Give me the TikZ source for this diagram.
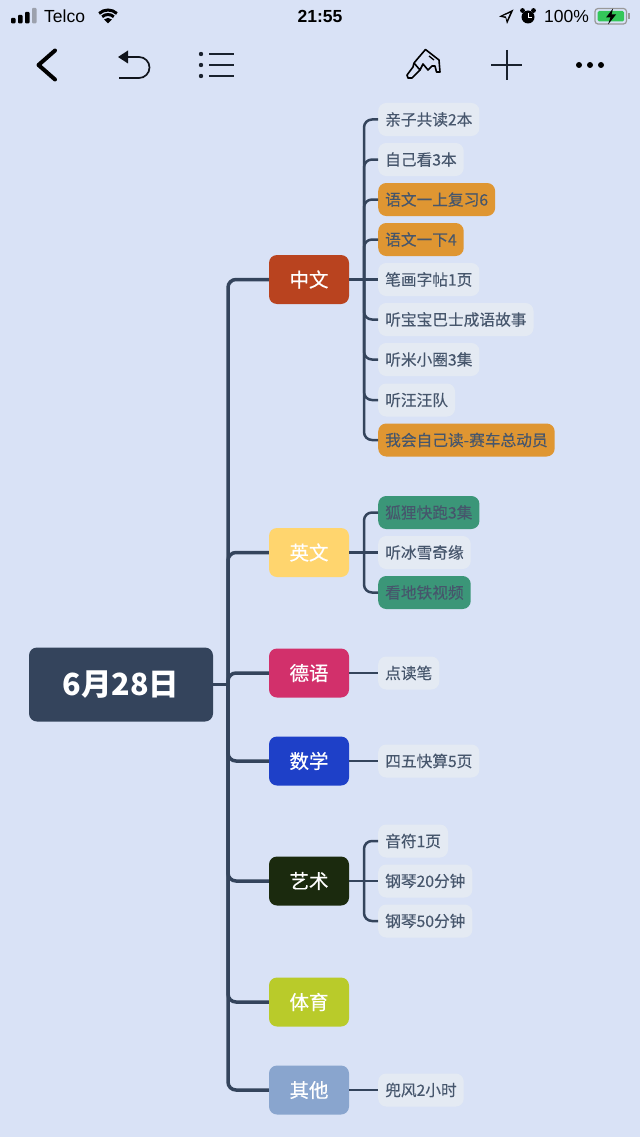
\documentclass[tikz,border=0pt]{standalone}
\usepackage{fontspec}
\setmainfont{Noto Sans CJK SC}
\newfontfamily\statusfont{Liberation Sans}
\newfontfamily\catfont[FakeBold=0.5]{Noto Sans CJK SC}
\newfontfamily\leaffont[FakeBold=0.25]{Noto Sans CJK SC}
\usetikzlibrary{
    calc,
    positioning
}
\definecolor{pagebg}{HTML}{D9E2F6}
\definecolor{inkdark}{HTML}{34445C}
\definecolor{leafink}{HTML}{46566C}
\definecolor{leafbg}{HTML}{E4EAF3}
\definecolor{leaforange}{HTML}{DF9632}
\definecolor{leafgreen}{HTML}{3B9678}
\definecolor{catred}{HTML}{B9431F}
\definecolor{catyellow}{HTML}{FFD56E}
\definecolor{catpink}{HTML}{D2306B}
\definecolor{catblue}{HTML}{1E40C8}
\definecolor{catdark}{HTML}{1B2A0E}
\definecolor{catlime}{HTML}{B9CB2A}
\definecolor{catsteel}{HTML}{89A5CE}
\definecolor{batgreen}{HTML}{34C759}
\tikzset{
    rootbox/.style={fill=inkdark, text=white, rounded corners=8pt, minimum width=184pt, minimum height=74pt, font=\fontsize{30.5}{32}\selectfont\bfseries},
    catbox/.style={rounded corners=8pt, text=white, minimum width=80pt, minimum height=49pt, font=\catfont\fontsize{19.5}{20}\selectfont},
    leafbox/.style={anchor=west, fill=leafbg, text=leafink, rounded corners=8pt, inner xsep=7pt, inner ysep=0pt, minimum height=33pt, font=\leaffont\fontsize{15.7}{16}\selectfont},
    mainline/.style={draw=inkdark, line width=3.5pt, rounded corners=8pt},
    subline/.style={draw=inkdark, line width=2.5pt, rounded corners=8pt},
    statustext/.style={inner sep=0pt, text=black, font=\statusfont\fontsize{17.5}{18}\selectfont}
}
\begin{document}
\begin{tikzpicture}[x=1pt, y=-1pt]
    \useasboundingbox (0, 0) rectangle (640, 1137);
    \fill[pagebg] (0, 0) rectangle (640, 1137);
    % status bar
    \foreach \x/\y in {11/18, 18/15, 25/12} {
        \fill[black, rounded corners=1pt] (\x, \y) rectangle (\x+4.5, 23.5);
    }
    \fill[black!25!pagebg!80!gray, rounded corners=1pt] (32, 8) rectangle (36.5, 23.5);
    \node[statustext, anchor=west] (telco) at (44, 16) {Telco};
    \fill[black] (108, 23.5) -- (104, 19.5) arc[start angle=-135, end angle=-45, radius=5.6] -- cycle;
    \foreach \r in {8.5, 13} {
        \draw[black, line width=3pt] ($(108, 23)+(-133:\r)$) arc[start angle=-133, end angle=-47, radius=\r];
    }
    \node[statustext, anchor=center, font=\statusfont\fontsize{17.5}{18}\selectfont\bfseries] (clock) at (320, 16) {21:55};
    \fill[black] (499, 16.5) -- (513.5, 9.5) -- (507, 24) -- (505.5, 18) -- cycle;
    \fill[pagebg] (503, 16) -- (510, 13) -- (507, 20) -- (506, 16.5) -- cycle;
    \fill[black] (528, 17) circle (6.5);
    \fill[black] (522.5, 10.5) circle (2.4) (533.5, 10.5) circle (2.4);
    \draw[white, line width=1pt] (528, 13) -- (528, 17.5) -- (531.5, 17.5);
    \node[statustext, anchor=west] (battext) at (544, 16) {100\%};
    \draw[black!40, line width=1.2pt, rounded corners=3pt] (595, 8.5) rectangle (626.5, 24);
    \fill[black!40] (628, 13.5) rectangle (630, 19);
    \fill[batgreen, rounded corners=1.5pt] (597.5, 11) rectangle (624, 21.5);
    \fill[black] (613, 8.5) -- (606, 17.5) -- (610.5, 17.5) -- (608, 24.5) -- (616, 14.5) -- (611.5, 14.5) -- cycle;
    % toolbar
    \draw[black, line width=4pt, line cap=round, line join=round] (55, 50.5) -- (38.5, 65) -- (55, 79.5);
    \draw[inkdark!30!black, line width=1.7pt] (125, 57) -- (139, 57) arc[start angle=-90, end angle=90, radius=10.5] -- (119, 78);
    \fill[inkdark!30!black] (118, 57) -- (128, 50.5) -- (128, 63.5) -- cycle;
    \foreach \y in {54, 65, 76} {
        \fill[inkdark!50!black] (201, \y) circle (2.2);
        \draw[inkdark!50!black, line width=1.7pt] (209, \y) -- (233.5, \y);
    }
    \draw[black, line width=1.6pt, line join=round] (425.5, 49.5) -- (439, 60) -- (440, 72) -- (436.5, 72) -- (435, 66) -- (432, 66) -- (428, 70) -- (423, 64) -- (420, 70) -- (414, 63) -- (416.5, 60) -- cycle;
    \draw[black, line width=1.6pt, line join=round] (414, 63) -- (413, 67) -- (407, 75) -- (408, 78) -- (412, 78) -- (420, 70);
    \draw[black, line width=1.3pt] (429, 56) -- (434, 60);
    % brush end
    \draw[inkdark!50!black, line width=1.7pt] (491, 65) -- (522, 65) (507, 50) -- (507, 80);
    \foreach \x in {579, 590, 601} {
        \fill[black] (\x, 65) circle (3);
    }
    % mind map nodes
    \node[rootbox] (root) at (121, 684.5) {6月28日};
    \node[catbox, fill=catred] (zhongwen) at (309, 279.5) {中文};
    \node[catbox, fill=catyellow] (yingwen) at (309, 552.5) {英文};
    \node[catbox, fill=catpink] (deyu) at (309, 673) {德语};
    \node[catbox, fill=catblue] (shuxue) at (309, 761) {数学};
    \node[catbox, fill=catdark] (yishu) at (309, 881) {艺术};
    \node[catbox, fill=catlime] (tiyu) at (309, 1002) {体育};
    \node[catbox, fill=catsteel] (qita) at (309, 1090) {其他};
    \node[leafbox] (qinzi) at (378, 119.5) {亲子共读2本};
    \node[leafbox] (zijikan) at (378, 159.5) {自己看3本};
    \node[leafbox, fill=leaforange] (yuwenshang) at (378, 199.5) {语文一上复习6};
    \node[leafbox, fill=leaforange] (yuwenxia) at (378, 239.5) {语文一下4};
    \node[leafbox] (bihua) at (378, 279.5) {笔画字帖1页};
    \node[leafbox] (baba) at (378, 319.5) {听宝宝巴士成语故事};
    \node[leafbox] (mixiao) at (378, 359.5) {听米小圈3集};
    \node[leafbox] (wangwang) at (378, 400) {听汪汪队};
    \node[leafbox, fill=leaforange] (saiche) at (378, 440) {我会自己读-赛车总动员};
    \node[leafbox, fill=leafgreen] (huli) at (378, 512.5) {狐狸快跑3集};
    \node[leafbox] (bingxue) at (378, 552.5) {听冰雪奇缘};
    \node[leafbox, fill=leafgreen] (ditie) at (378, 592.5) {看地铁视频};
    \node[leafbox] (diandu) at (378, 673) {点读笔};
    \node[leafbox] (sihe) at (378, 761) {四五快算5页};
    \node[leafbox] (yinfu) at (378, 841) {音符1页};
    \node[leafbox] (gangqinA) at (378, 881) {钢琴20分钟};
    \node[leafbox] (gangqinB) at (378, 921) {钢琴50分钟};
    \node[leafbox] (doufeng) at (378, 1090) {兜风2小时};
    % connectors
    \coordinate (trunk) at (228, 684.5);
    \coordinate (forkzhong) at (364, 279.5);
    \coordinate (forkying) at (364, 552.5);
    \coordinate (forkyi) at (364, 881);
    \draw[mainline] (root.east) -- (trunk);
    \foreach \cat in {zhongwen, yingwen, deyu, shuxue, yishu, tiyu, qita} {
        \draw[mainline] (trunk) |- (\cat.west);
    }
    \draw[subline] (zhongwen.east) -- (bihua.west);
    \foreach \leaf in {qinzi, zijikan, yuwenshang, yuwenxia, baba, mixiao, wangwang, saiche} {
        \draw[subline] (forkzhong) |- (\leaf.west);
    }
    \draw[subline] (yingwen.east) -- (bingxue.west);
    \foreach \leaf in {huli, ditie} {
        \draw[subline] (forkying) |- (\leaf.west);
    }
    \draw[subline] (deyu.east) -- (diandu.west);
    \draw[subline] (shuxue.east) -- (sihe.west);
    \draw[subline] (yishu.east) -- (gangqinA.west);
    \foreach \leaf in {yinfu, gangqinB} {
        \draw[subline] (forkyi) |- (\leaf.west);
    }
    \draw[subline] (qita.east) -- (doufeng.west);
\end{tikzpicture}
\end{document}
